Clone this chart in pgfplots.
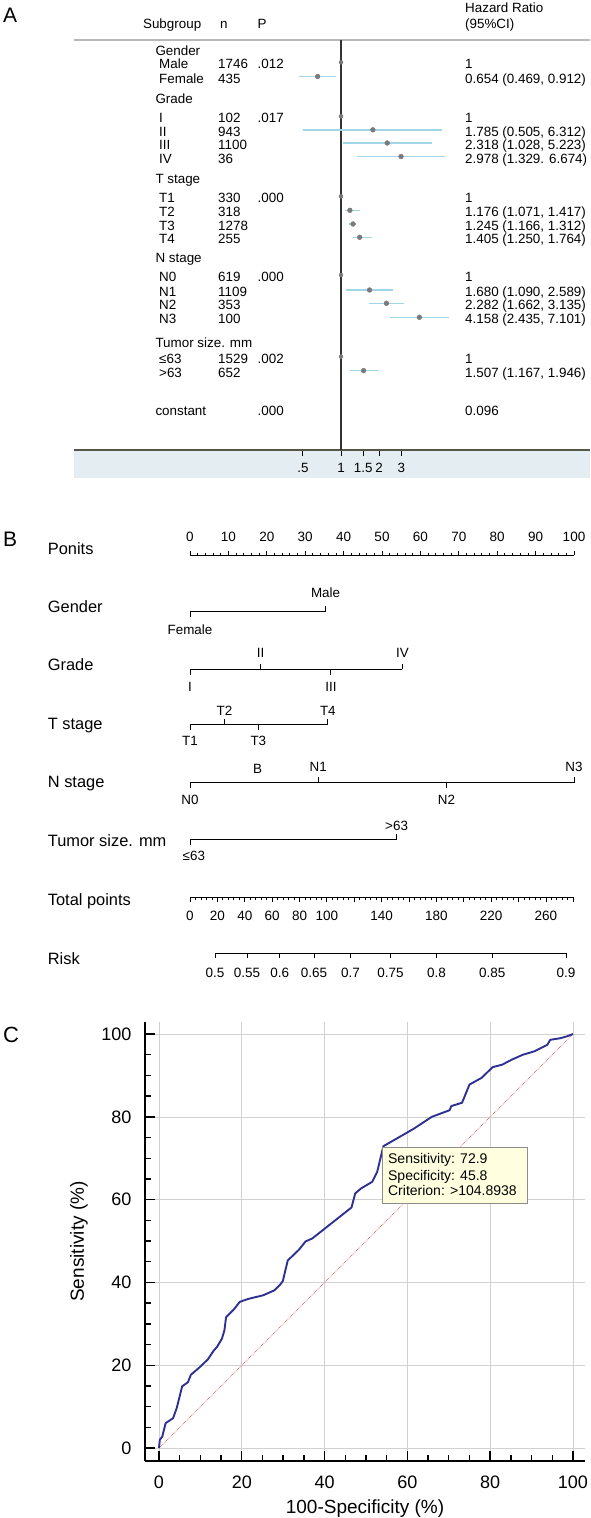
\documentclass[border=0pt]{standalone}
\usepackage{fontspec}
\setmainfont{Liberation Sans}
\usepackage{pgfplots}
\pgfplotsset{compat=1.18}
\definecolor{cib}{HTML}{A0D6E8}
\definecolor{mgray}{HTML}{7A7A7A}
\definecolor{vline}{HTML}{333333}
\definecolor{bandA}{HTML}{E4EDF2}
\definecolor{botline}{HTML}{57544A}
\definecolor{topline}{HTML}{B8B8B8}
\definecolor{rocblue}{HTML}{2E3192}
\definecolor{diagred}{HTML}{D9534F}
\definecolor{tipfill}{HTML}{FFFFE0}
\newcommand{\fs}[1]{\fontsize{#1}{#1}\selectfont}
\newcommand{\tA}[3]{\node[anchor=base west, inner sep=0pt, font=\fs{13.4}] at (#1,{-(#2)-4.8}) {#3};}
\newcommand{\tB}[2]{\node[anchor=base west, inner sep=0pt, font=\fs{16.4}] at (47.7,{-(#1)-5.9}) {#2};}
\pgfdeclareplotmark{tickup}{\pgfpathmoveto{\pgfpointorigin}\pgfpathlineto{\pgfpoint{0pt}{5.5pt}}\pgfusepathqstroke}
\pgfdeclareplotmark{tickdn}{\pgfpathmoveto{\pgfpointorigin}\pgfpathlineto{\pgfpoint{0pt}{-5.5pt}}\pgfusepathqstroke}
\pgfplotsset{
  every axis/.append style={scale only axis, clip=false,
    /pgf/number format/assume math mode=true,
    every inner x axis line/.append style={-},
    every outer x axis line/.append style={-},
    every inner y axis line/.append style={-},
    every outer y axis line/.append style={-}},
}
\begin{document}
\begin{tikzpicture}[x=1pt,y=1pt]
\useasboundingbox (0,0) rectangle (590,-1518);
%================ Panel A =================
\node[anchor=west, inner sep=0pt, font=\fs{21}] at (3,-15) {A};
\fill[bandA] (74,-450) rectangle (590,-478);
\begin{axis}[at={(74pt,-450pt)}, anchor=south west, width=516pt, height=410pt,
  xmode=log, xmin=0.00779, xmax=92.5, ymin=-450, ymax=-40,
  axis x line*=bottom, axis y line=none,
  axis line style={draw=botline, line width=1.4pt},
  xtick={0.5,1,1.5,2,3}, xticklabels={.5,1,1.5,2,3}, minor xtick={},
  xtick align=outside, major tick length=6pt,
  tick style={black, line width=0.8pt},
  xticklabel style={font=\fs{13.4}, anchor=center, yshift=-12pt}]
\draw[topline, line width=1.4pt] (rel axis cs:0,1) -- (rel axis cs:1,1);
\addplot[draw=vline, line width=1.2pt] coordinates {(1,-40) (1,-450)};
\addplot[cib, line width=1.6pt] coordinates {(0.469,-76.5) (0.912,-76.5)};
\addplot[cib, line width=1.6pt] coordinates {(0.505,-129.8) (6.312,-129.8)};
\addplot[cib, line width=1.6pt] coordinates {(1.028,-143) (5.223,-143)};
\addplot[cib, line width=1.6pt] coordinates {(1.329,-156.5) (6.674,-156.5)};
\addplot[cib, line width=1.6pt] coordinates {(1.071,-210.3) (1.417,-210.3)};
\addplot[cib, line width=1.6pt] coordinates {(1.166,-224) (1.312,-224)};
\addplot[cib, line width=1.6pt] coordinates {(1.250,-237.3) (1.764,-237.3)};
\addplot[cib, line width=1.6pt] coordinates {(1.090,-290) (2.589,-290)};
\addplot[cib, line width=1.6pt] coordinates {(1.662,-303.3) (3.135,-303.3)};
\addplot[cib, line width=1.6pt] coordinates {(2.435,-317.3) (7.101,-317.3)};
\addplot[cib, line width=1.6pt] coordinates {(1.167,-370.6) (1.946,-370.6)};
\addplot[only marks, mark=*, mark size=2.4pt, color=mgray] coordinates {
  (0.654,-76.5) (1.785,-129.8) (2.318,-143) (2.978,-156.5)
  (1.176,-210.3) (1.245,-224) (1.405,-237.3)
  (1.680,-290) (2.282,-303.3) (4.158,-317.3) (1.507,-370.6)};
\addplot[only marks, mark=*, mark size=2pt, color=mgray] coordinates {
  (1,-62.3) (1,-116.3) (1,-196.3) (1,-275) (1,-356.6)};
\end{axis}
% Panel A texts
\tA{142.9}{24}{Subgroup}\tA{220}{24}{n}\tA{257.5}{24}{P}
\tA{465}{7.5}{Hazard Ratio}\tA{465}{24}{(95\%CI)}
\tA{155.3}{50.7}{Gender}
\tA{159}{64}{Male}\tA{218}{64}{1746}\tA{257.5}{64}{.012}\tA{465}{64}{1}
\tA{159}{78.7}{Female}\tA{218}{78.7}{435}\tA{465}{78.7}{0.654 (0.469, 0.912)}
\tA{155.3}{99}{Grade}
\tA{159}{118}{I}\tA{218}{118}{102}\tA{257.5}{118}{.017}\tA{465}{118}{1}
\tA{159}{131.7}{II}\tA{218}{131.7}{943}\tA{465}{131.7}{1.785 (0.505, 6.312)}
\tA{159}{145}{III}\tA{218}{145}{1100}\tA{465}{145}{2.318 (1.028, 5.223)}
\tA{159}{159}{IV}\tA{218}{159}{36}\tA{465}{159}{2.978 (1.329. 6.674)}
\tA{155.3}{179}{T stage}
\tA{159}{198}{T1}\tA{218}{198}{330}\tA{257.5}{198}{.000}\tA{465}{198}{1}
\tA{159}{212}{T2}\tA{218}{212}{318}\tA{465}{212}{1.176 (1.071, 1.417)}
\tA{159}{225.7}{T3}\tA{218}{225.7}{1278}\tA{465}{225.7}{1.245 (1.166, 1.312)}
\tA{159}{239}{T4}\tA{218}{239}{255}\tA{465}{239}{1.405 (1.250, 1.764)}
\tA{155.3}{258}{N stage}
\tA{159}{276.7}{N0}\tA{218}{276.7}{619}\tA{257.5}{276.7}{.000}\tA{465}{276.7}{1}
\tA{159}{291.7}{N1}\tA{218}{291.7}{1109}\tA{465}{291.7}{1.680 (1.090, 2.589)}
\tA{159}{305}{N2}\tA{218}{305}{353}\tA{465}{305}{2.282 (1.662, 3.135)}
\tA{159}{319}{N3}\tA{218}{319}{100}\tA{465}{319}{4.158 (2.435, 7.101)}
\tA{155.3}{342.7}{Tumor size. mm}
\tA{159}{358.3}{≤63}\tA{218}{358.3}{1529}\tA{257.5}{358.3}{.002}\tA{465}{358.3}{1}
\tA{159}{372.3}{>63}\tA{218}{372.3}{652}\tA{465}{372.3}{1.507 (1.167, 1.946)}
\tA{155.3}{411}{constant}\tA{257.5}{411}{.000}\tA{465}{411}{0.096}
%================ Panel B =================
\node[anchor=west, inner sep=0pt, font=\fs{21}] at (3,-539) {B};
\tB{548.3}{Ponits}\tB{606.7}{Gender}\tB{665}{Grade}\tB{723.3}{T stage}
\tB{781.7}{N stage}\tB{840.7}{Tumor size. mm}\tB{899.3}{Total points}\tB{958.3}{Risk}
% Points axis
\begin{axis}[at={(190pt,-555pt)}, anchor=north west, width=384pt, height=10pt,
  xmin=0, xmax=100, ymin=0, ymax=1, axis x line*=top, axis y line=none,
  axis line style={line width=0.9pt},
  xtick={0,10,...,100}, minor x tick num=4, xtick align=outside,
  major tick length=4.5pt, minor tick length=2.5pt, tick style={black, line width=0.8pt},
  xticklabel style={font=\fs{13.5}, anchor=center, yshift=13.5pt}]
\addplot[draw=none] coordinates {(0,0) (100,0)};
\end{axis}
% Variables
\begin{axis}[at={(190pt,-870pt)}, anchor=south west, width=384pt, height=290pt,
  xmin=0, xmax=100, ymin=-870, ymax=-580, hide axis]
\addplot[black, line width=0.9pt] coordinates {(0,-611.7) (35.3,-611.7)};
\addplot[black, line width=0.9pt] coordinates {(0,-669) (55.3,-669)};
\addplot[black, line width=0.9pt] coordinates {(0,-724.3) (35.9,-724.3)};
\addplot[black, line width=0.9pt] coordinates {(0,-782.7) (100,-782.7)};
\addplot[black, line width=0.9pt] coordinates {(0,-839.3) (53.8,-839.3)};
\addplot[only marks, mark=tickup, black, line width=0.9pt] coordinates {
  (35.3,-611.7) (18.4,-669) (55.3,-669) (9.0,-724.3) (35.9,-724.3)
  (33.4,-782.7) (100,-782.7) (53.8,-839.3)};
\addplot[only marks, mark=tickdn, black, line width=0.9pt] coordinates {
  (0,-611.7) (0,-669) (36.7,-669) (0,-724.3) (17.8,-724.3)
  (0,-782.7) (66.8,-782.7) (0,-839.3)};
\addplot[draw=none, nodes near coords, point meta=explicit symbolic,
  every node near coord/.style={anchor=center, inner sep=0pt, font=\fs{13.4}}]
  coordinates {
  (35.3,-592.7)[Male] (0,-630)[Female]
  (0,-686.7)[I] (18.4,-653.3)[II] (36.7,-686.7)[III] (55.3,-653.3)[IV]
  (0,-740.7)[T1] (9.0,-711)[T2] (17.8,-740.7)[T3] (35.9,-711)[T4]
  (0,-800)[N0] (33.4,-766.7)[N1] (66.8,-800)[N2] (100,-766.7)[N3]
  (17.6,-769.3)[B]
  (1,-856)[≤63] (53.8,-826)[>63]};
\end{axis}
% Total points axis
\begin{axis}[at={(190pt,-897pt)}, anchor=south west, width=383.3pt, height=10pt,
  xmin=0, xmax=280, ymin=0, ymax=1, axis x line*=bottom, axis y line=none,
  axis line style={line width=0.9pt},
  xtick={0,20,...,280}, xticklabels={0,20,40,60,80,100,,140,,180,,220,,260,},
  minor x tick num=4, xtick align=outside,
  major tick length=5pt, minor tick length=3pt, tick style={black, line width=0.8pt},
  xticklabel style={font=\fs{13.5}, anchor=center, yshift=-13.7pt}]
\addplot[draw=none] coordinates {(0,0) (280,0)};
\end{axis}
% Risk axis
\begin{axis}[at={(215pt,-953.3pt)}, anchor=south west, width=351.1pt, height=10pt,
  xmin=0, xmax=2.1973, ymin=0, ymax=1, axis x line*=bottom, axis y line=none,
  axis line style={line width=0.9pt},
  xtick={0,0.2007,0.4055,0.6190,0.8473,1.0986,1.3863,1.7346,2.1972},
  xticklabels={0.5,0.55,0.6,0.65,0.7,0.75,0.8,0.85,0.9},
  xtick align=outside, major tick length=4.5pt, tick style={black, line width=0.8pt},
  xticklabel style={font=\fs{13.5}, anchor=center, yshift=-14.9pt}]
\addplot[draw=none] coordinates {(0,0) (2.1972,0)};
\end{axis}
%================ Panel C =================
\node[anchor=west, inner sep=0pt, font=\fs{22}] at (3,-1035) {C};
\begin{axis}[at={(145pt,-1461pt)}, anchor=south west, width=440pt, height=439pt,
  xmin=-3.38, xmax=102.9, ymin=-3.14, ymax=102.9,
  axis x line*=bottom, axis y line*=left,
  axis line style={line width=2pt, black},
  xtick={0,20,...,100}, ytick={0,20,...,100}, minor tick num=3,
  tick align=inside, major tick length=10pt, minor tick length=6pt,
  tick style={black, line width=1.4pt},
  grid=major, major grid style={black!18, line width=0.6pt},
  xticklabel style={font=\fs{18}, anchor=center, yshift=-21pt},
  yticklabel style={font=\fs{18}, anchor=east, inner sep=0pt, xshift=-13.4pt},
  xlabel={100-Specificity (\%)}, ylabel={Sensitivity (\%)},
  every axis x label/.style={at={(rel axis cs:0.5,0)}, anchor=center, yshift=-48pt, font=\fs{19}},
  every axis y label/.style={at={(rel axis cs:0,0.5)}, anchor=center, rotate=90, yshift=66pt, font=\fs{19}}]
\addplot[draw=diagred, densely dotted, line width=0.7pt] coordinates {(0,0) (100,100)};
\addplot[draw=rocblue, line width=1.9pt, line join=round] coordinates {
 (0,0) (0.2,2) (0.8,2.8) (1.6,6) (3.4,7.2) (4.3,9.7) (5.6,14.9) (7,15.9) (7.7,17.7)
 (9.7,19.4) (11.8,21.4) (13.2,23.5) (14,24.4) (15.2,26.4) (15.8,28.4) (16.2,31.6)
 (18.1,33.5) (19.5,35.3) (21.5,36) (25.2,36.9) (27.9,38.1) (29.3,39.5) (29.9,40.3)
 (31.1,45.3) (33.8,47.9) (35.4,49.9) (37,50.6) (46.5,58.1) (47.4,61.5) (48.8,62.7)
 (51.5,64.3) (52.7,66.7) (54.2,72.9) (61.5,77.1) (65.9,80) (70.2,81.6) (70.6,82.6)
 (73.2,83.4) (75,87.8) (77.9,89.4) (80.6,92) (82.9,92.6) (85.2,93.8) (87.9,95)
 (90.6,95.8) (93.8,97.4) (94.5,98.6) (97,99) (98.4,99.4) (100,100)};
\draw[fill=tipfill, draw=black!45, line width=0.8pt] (axis cs:53.9,59.1) rectangle (axis cs:89,72.5);
\node[anchor=base west, inner sep=0pt, font=\fs{14}] at (axis cs:55.3,68.8) {Sensitivity: 72.9};
\node[anchor=base west, inner sep=0pt, font=\fs{14}] at (axis cs:55.3,64.7) {Specificity: 45.8};
\node[anchor=base west, inner sep=0pt, font=\fs{14}] at (axis cs:55.3,60.9) {Criterion: >104.8938};
\end{axis}
\end{tikzpicture}
\end{document}
